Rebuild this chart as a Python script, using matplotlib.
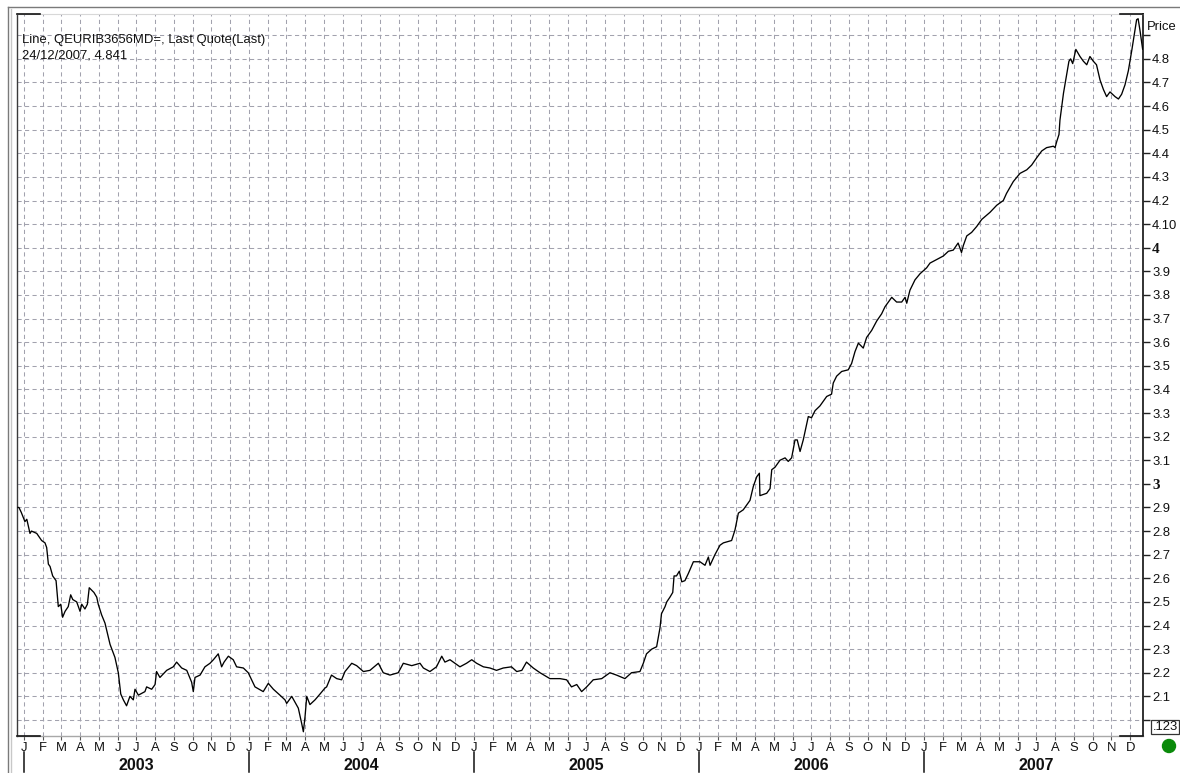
import numpy as np
import matplotlib
matplotlib.use("Agg")
import matplotlib.pyplot as plt
from matplotlib.lines import Line2D
from matplotlib.patches import Ellipse
from matplotlib.transforms import blended_transform_factory

# ---------------- data ----------------
# position in months since the Jan-2003 tick (fractional)
month_pos = [
    -0.32, -0.27, -0.15, 0.05, 0.15, 0.32, 0.40, 0.68, 0.94, 1.12, 1.21, 1.30, 1.39, 1.53, 1.71,
    1.83, 1.96, 2.06, 2.19, 2.36, 2.49, 2.60, 2.81, 2.99, 3.08, 3.25, 3.38, 3.48, 3.73, 3.88,
    3.96, 4.14, 4.32, 4.59, 4.85, 5.03, 5.16, 5.30, 5.47, 5.65, 5.83, 5.92, 6.10, 6.45, 6.54,
    6.81, 6.99, 7.07, 7.25, 7.61, 7.96, 8.14, 8.41, 8.68, 8.94, 9.03, 9.12, 9.39, 9.65, 9.92,
    10.10, 10.36, 10.54, 10.67, 10.90, 11.16, 11.34, 11.70, 11.96, 12.32, 12.76, 13.03, 13.30,
    13.65, 13.92, 14.01, 14.28, 14.63, 14.81, 14.90, 14.99, 15.08, 15.25, 15.52, 15.79, 16.05,
    16.14, 16.40, 16.68, 16.94, 17.12, 17.48, 17.74, 18.10, 18.45, 18.90, 19.16, 19.52, 19.96,
    20.23, 20.68, 21.12, 21.30, 21.65, 22.00, 22.28, 22.45, 22.72, 22.99, 23.25, 23.60, 23.88,
    24.14, 24.50, 24.85, 25.20, 25.56, 26.00, 26.28, 26.55, 26.80, 27.16, 27.52, 28.05, 28.59,
    28.94, 29.20, 29.48, 29.74, 30.01, 30.36, 30.81, 31.25, 31.60, 32.05, 32.40, 32.85, 33.03,
    33.20, 33.48, 33.74, 33.92, 34.00, 34.19, 34.28, 34.45, 34.60, 34.67, 34.80, 34.95, 35.08,
    35.25, 35.43, 35.70, 36.05, 36.32, 36.50, 36.59, 36.85, 37.12, 37.30, 37.74, 37.92, 38.10,
    38.36, 38.72, 38.90, 39.08, 39.22, 39.25, 39.61, 39.79, 39.88, 40.05, 40.32, 40.59, 40.76,
    40.94, 41.12, 41.24, 41.39, 41.56, 41.83, 42.00, 42.19, 42.45, 42.81, 43.07, 43.16, 43.34,
    43.61, 43.96, 44.14, 44.32, 44.50, 44.76, 44.94, 45.21, 45.48, 45.74, 45.92, 46.28, 46.54,
    46.81, 46.99, 47.08, 47.25, 47.52, 47.79, 48.14, 48.32, 48.68, 49.03, 49.30, 49.56, 49.82,
    50.00, 50.10, 50.28, 50.54, 50.81, 51.08, 51.52, 51.88, 52.23, 52.40, 52.76, 53.12, 53.48,
    53.74, 54.00, 54.28, 54.54, 54.90, 54.99, 55.08, 55.20, 55.25, 55.44, 55.62, 55.73, 55.82,
    55.93, 56.10, 56.32, 56.50, 56.68, 56.85, 57.03, 57.20, 57.39, 57.57, 57.74, 57.92, 58.19,
    58.37, 58.54, 58.72, 58.90, 59.09, 59.20, 59.34, 59.42, 59.52, 59.66,
]
price = [
    2.90, 2.90, 2.88, 2.84, 2.85, 2.79, 2.80, 2.79, 2.76, 2.75, 2.73, 2.66, 2.65, 2.61, 2.59,
    2.48, 2.49, 2.435, 2.46, 2.48, 2.53, 2.51, 2.50, 2.46, 2.49, 2.47, 2.49, 2.56, 2.54, 2.52,
    2.49, 2.445, 2.41, 2.32, 2.265, 2.20, 2.11, 2.085, 2.06, 2.10, 2.085, 2.13, 2.105, 2.12, 2.14,
    2.13, 2.15, 2.205, 2.18, 2.21, 2.225, 2.245, 2.22, 2.21, 2.16, 2.12, 2.18, 2.19, 2.225, 2.24,
    2.255, 2.28, 2.225, 2.245, 2.27, 2.255, 2.225, 2.22, 2.20, 2.14, 2.12, 2.155, 2.13,
    2.105, 2.085, 2.07, 2.10, 2.05, 1.985, 1.95, 2.015, 2.10, 2.065, 2.085, 2.11, 2.135,
    2.14, 2.19, 2.175, 2.17, 2.205, 2.24, 2.23, 2.205, 2.21, 2.24, 2.20, 2.19, 2.20,
    2.24, 2.23, 2.24, 2.22, 2.205, 2.225, 2.27, 2.245, 2.255, 2.24, 2.225, 2.24, 2.255,
    2.24, 2.225, 2.22, 2.21, 2.22, 2.225, 2.205, 2.21, 2.245, 2.22, 2.20, 2.175, 2.175,
    2.17, 2.14, 2.15, 2.12, 2.14, 2.17, 2.175, 2.20, 2.19, 2.175, 2.20, 2.205, 2.24,
    2.28, 2.30, 2.31, 2.39, 2.45, 2.48, 2.50, 2.52, 2.54, 2.61, 2.61, 2.63, 2.585,
    2.59, 2.62, 2.67, 2.67, 2.655, 2.69, 2.655, 2.70, 2.74, 2.75, 2.76, 2.805, 2.876,
    2.89, 2.93, 2.99, 3.03, 3.045, 2.95, 2.96, 2.98, 3.06, 3.07, 3.10, 3.11, 3.095,
    3.11, 3.186, 3.186, 3.137, 3.186, 3.285, 3.28, 3.31, 3.33, 3.37, 3.38, 3.427, 3.456,
    3.476, 3.483, 3.51, 3.56, 3.596, 3.575, 3.62, 3.65, 3.69, 3.72, 3.75, 3.79, 3.77,
    3.77, 3.79, 3.765, 3.82, 3.864, 3.89, 3.915, 3.935, 3.95, 3.965, 3.985, 3.99, 4.02,
    3.98, 4.01, 4.05, 4.065, 4.09, 4.12, 4.15, 4.18, 4.20, 4.23, 4.28, 4.315, 4.33,
    4.35, 4.38, 4.41, 4.424, 4.43, 4.424, 4.45, 4.48, 4.54, 4.655, 4.74, 4.79, 4.80,
    4.78, 4.84, 4.81, 4.79, 4.775, 4.81, 4.79, 4.775, 4.71, 4.67, 4.64, 4.66, 4.64,
    4.63, 4.65, 4.69, 4.75, 4.84, 4.896, 4.966, 4.97, 4.92, 4.841,
]

month_letters = ["J", "F", "M", "A", "M", "J", "J", "A", "S", "O", "N", "D"]
years = ["2003", "2004", "2005", "2006", "2007"]

y_ticks = [round(2.0 + 0.1 * i, 1) for i in range(30)]  # 2.0 .. 4.9
y_tick_labels = ["", "2.1", "2.2", "2.3", "2.4", "2.5", "2.6", "2.7", "2.8", "2.9",
                 "3", "3.1", "3.2", "3.3", "3.4", "3.5", "3.6", "3.7", "3.8", "3.9",
                 "4", "4.10", "4.2", "4.3", "4.4", "4.5", "4.6", "4.7", "4.8", ""]
bold_labels = ["3", "4"]

legend_line1 = "Line, QEURIB3656MD=, Last Quote(Last)"
legend_line2 = "24/12/2007, 4.841"

# ---------------- figure ----------------
plt.rcParams["font.family"] = ["Liberation Sans", "DejaVu Sans"]
plt.rcParams["lines.scale_dashes"] = False

W, H = 1180, 773
fig = plt.figure(figsize=(W / 100, H / 100), dpi=100)
fig.patch.set_facecolor("white")

L, R, T, B = 17, 1143, 14, 736
ax = fig.add_axes([L / W, 1 - B / H, (R - L) / W, (B - T) / H])
ax.set_facecolor("white")

grid_color = "#a2a2ae"
ax.plot(month_pos, price, color="black", lw=0.95, zorder=3)

ax.set_xlim(-0.373, 59.68)
ax.set_ylim(1.932, 4.99)

FS = 9.4

# x axis: months
n_months = 12 * len(years)
ax.set_xticks(range(n_months))
ax.set_xticklabels([month_letters[i % 12] for i in range(n_months)], fontsize=FS)
ax.tick_params(axis="x", direction="out", length=3, width=0.8, color="#555555", pad=1.0,
               labelcolor="#111111")

# y axis on the right
ax.yaxis.tick_right()
ax.set_yticks(y_ticks)
ax.set_yticklabels(y_tick_labels, fontsize=FS)
ax.tick_params(axis="y", direction="out", length=5, width=1.0, color="#222222", pad=1.5,
               labelcolor="#111111")
for lab in ax.get_yticklabels():
    if lab.get_text() in bold_labels:
        lab.set_fontfamily("Liberation Serif")
        lab.set_fontweight("bold")
        lab.set_fontsize(11)

ax.grid(True, color=grid_color, lw=0.75, dashes=(3.0, 2.4))
ax.set_axisbelow(True)

# spines
ax.spines["left"].set_color("#3a3a3a")
ax.spines["left"].set_linewidth(1.0)
ax.spines["right"].set_color("#222222")
ax.spines["right"].set_linewidth(1.3)
ax.spines["bottom"].set_color("#a8a8a8")
ax.spines["bottom"].set_linewidth(1.0)
ax.spines["top"].set_color("#d8d8d8")
ax.spines["top"].set_linewidth(0.8)

# dark corner marks
seg = 23 / (R - L)
for (x0, x1) in [(0, seg), (1 - seg, 1)]:
    for yy in (0, 1):
        ax.plot([x0, x1], [yy, yy], transform=ax.transAxes, color="#111111", lw=1.2,
                clip_on=False, zorder=5)

# year labels & separators
trans = blended_transform_factory(ax.transData, ax.transAxes)
for k, yr in enumerate(years):
    ax.text(12 * k + 6, (B - 765) / (B - T), yr, transform=trans, ha="center", va="center",
            fontsize=11.5, fontweight="bold", color="#111111")
    ax.plot([12 * k, 12 * k], [(B - 752) / (B - T), (B - 772) / (B - T)], transform=trans,
            color="#111111", lw=1.1, clip_on=False)

# legend text
fig.text(22 / W, 1 - 40 / H, legend_line1, fontsize=FS, va="center", ha="left", color="#111111")
fig.text(22 / W, 1 - 55 / H, legend_line2, fontsize=FS, va="center", ha="left", color="#111111")

# Price title
fig.text(1147 / W, 1 - 27 / H, "Price", fontsize=FS, va="center", ha="left", color="#111111")

# .123 box
fig.text(1165 / W, 1 - 727 / H, ".123", fontsize=FS, va="center", ha="center", color="#111111",
         bbox=dict(boxstyle="square,pad=0.1", fc="white", ec="#333333", lw=0.9))

# green dot
fig.add_artist(Ellipse((1169 / W, 1 - 746 / H), 13 / W, 13 / H, transform=fig.transFigure,
                       color="#0a8a0a"))

# outer frame
fig.add_artist(Line2D([8 / W, 1], [1 - 7 / H, 1 - 7 / H], transform=fig.transFigure,
                      color="#7a7a7a", lw=1.0))
fig.add_artist(Line2D([8 / W, 8 / W], [0, 1 - 7 / H], transform=fig.transFigure,
                      color="#7a7a7a", lw=1.0))
fig.add_artist(Line2D([10.5 / W, 10.5 / W], [0, 1 - 9 / H], transform=fig.transFigure,
                      color="#c8c8c8", lw=1.0))

fig.savefig("out.png", dpi=100, facecolor="white")
